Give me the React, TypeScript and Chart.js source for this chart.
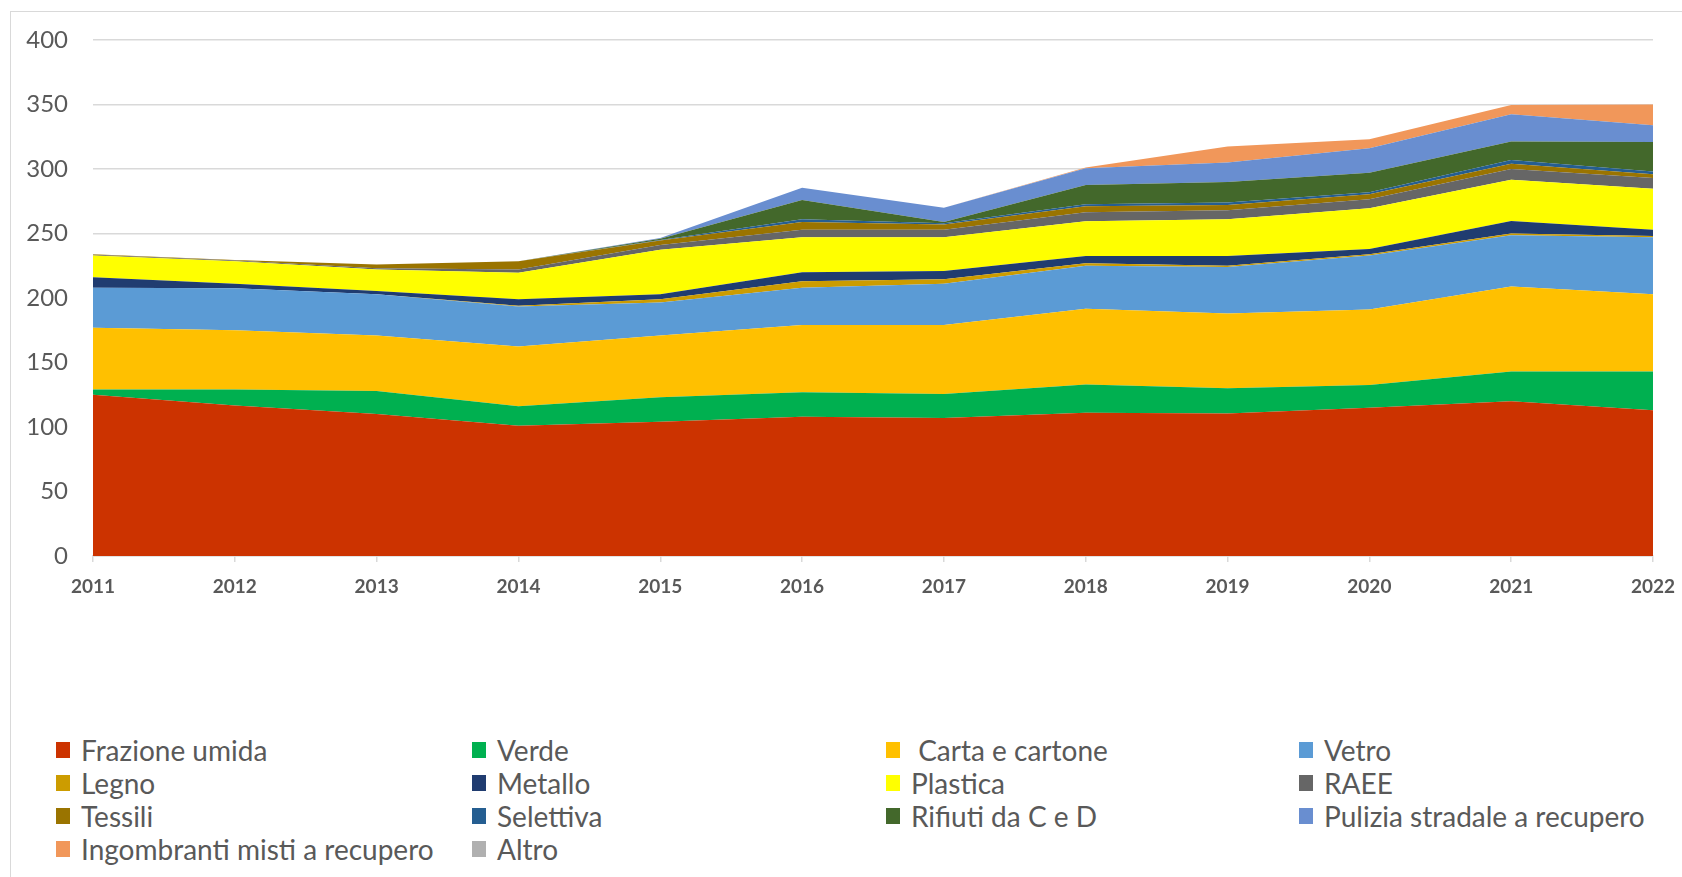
import React, { useEffect, useRef } from "react";
import { Chart, registerables } from "chart.js";

Chart.register(...registerables);

// ---------- DATA ----------
const years = ["2011", "2012", "2013", "2014", "2015", "2016", "2017", "2018", "2019", "2020", "2021", "2022"];

const frazioneUmida = [125, 116.7, 110, 101, 104, 108, 107, 111, 110.5, 115, 120, 113];
const verde = [4, 12.3, 18, 15, 19, 19, 18.5, 22, 19.5, 17.5, 23, 30];
const cartaCartone = [48, 46, 43, 46.5, 48, 52, 53.5, 58.7, 58, 58.5, 66, 60];
const vetro = [31, 32.5, 32, 31, 25.5, 29, 32, 33.3, 36, 42, 39.6, 44];
const legno = [0, 0, 0, 0.5, 2.5, 5, 3.5, 2, 1, 1, 1.4, 1];
const metallo = [8, 3.5, 2.5, 5, 4, 7, 6.5, 5.5, 7.5, 4, 9.7, 5];
const plastica = [17, 17.5, 16.5, 20.5, 34.5, 27, 26, 27, 28.5, 31.5, 32, 31.7];
const raee = [0.5, 0.5, 1, 2.5, 3.5, 6, 6, 7, 7, 7, 8.3, 8.3];
const tessili = [0.5, 0.5, 3, 6.5, 3.5, 6, 4, 4.7, 4, 4, 4, 3];
const selettiva = [0, 0, 0, 0, 0.5, 2, 1, 1.4, 2, 1.5, 3, 2];
const rifiutiCeD = [0, 0, 0, 0, 1, 15, 1, 15, 16, 15, 14.4, 23];
const puliziaStradale = [0, 0, 0, 0, 0.5, 9.5, 11, 13, 15, 19, 21, 13];
const ingombranti = [0, 0, 0, 0, 0, 0, 0, 0.5, 12.5, 7, 7.2, 16];
const altro = [0, 0, 0, 0, 0, 0, 0, 0, 0, 0, 0, 0];

const seriesLabels = [
  "Frazione umida",
  "Verde",
  " Carta e cartone",
  "Vetro",
  "Legno",
  "Metallo",
  "Plastica",
  "RAEE",
  "Tessili",
  "Selettiva",
  "Rifiuti da C e D",
  "Pulizia stradale a recupero",
  "Ingombranti misti a recupero",
  "Altro",
];

const seriesColors = [
  "#CC3300",
  "#00B050",
  "#FFC000",
  "#5B9BD5",
  "#CC9C00",
  "#203C70",
  "#FFFF00",
  "#666666",
  "#9A7400",
  "#255E91",
  "#43682B",
  "#698ED0",
  "#F1975A",
  "#B0B0B0",
];

const yTicks = [0, 50, 100, 150, 200, 250, 300, 350, 400];

// ---------- LAYOUT ----------
const W = 1682;
const H = 877;
const PLOT_BOTTOM = 556;
const CANVAS_H = 622;
const legendCols = [56, 472, 886, 1299];
const legendRows = [750, 783, 816, 849];

export default function App() {
  const ref = useRef<HTMLCanvasElement>(null);

  useEffect(() => {
    const series = [
      frazioneUmida, verde, cartaCartone, vetro, legno, metallo, plastica,
      raee, tessili, selettiva, rifiutiCeD, puliziaStradale, ingombranti, altro,
    ];
    const chart = new Chart(ref.current as HTMLCanvasElement, {
      type: "line",
      data: {
        labels: years,
        datasets: series.map((d, i) => ({
          label: seriesLabels[i],
          data: d,
          backgroundColor: seriesColors[i],
          borderColor: seriesColors[i],
          borderWidth: 0,
          pointRadius: 0,
          tension: 0,
          fill: i === 0 ? "origin" : "-1",
        })),
      },
      options: {
        animation: false,
        responsive: false,
        maintainAspectRatio: false,
        layout: { padding: { left: 0, right: 29, top: 40, bottom: 0 } },
        plugins: {
          legend: { display: false },
          tooltip: { enabled: false },
        },
        scales: {
          x: {
            offset: false,
            grid: { drawOnChartArea: false, drawTicks: true, tickLength: 6, color: "#d9d9d9", lineWidth: 1.5 },
            border: { color: "#d9d9d9", width: 1.5 },
            ticks: {
              color: "#595959",
              font: { family: "Lato", size: 19, weight: "bold" },
              padding: 13,
              maxRotation: 0,
              autoSkip: false,
            },
            afterFit: (s: any) => {
              s.height = CANVAS_H - PLOT_BOTTOM;
              s.paddingLeft = 0;
              s.paddingRight = 0;
            },
          },
          y: {
            stacked: true,
            min: 0,
            max: 400,
            afterBuildTicks: (s: any) => {
              s.ticks = yTicks.map((v) => ({ value: v }));
            },
            ticks: {
              color: "#595959",
              font: { family: "Lato", size: 24 },
              padding: 25,
            },
            grid: { color: "#d9d9d9", lineWidth: 1.5, drawTicks: false },
            border: { display: false },
            afterFit: (s: any) => {
              s.width = 93;
            },
          },
        },
      },
    });
    return () => chart.destroy();
  }, []);

  return (
    <div style={{ position: "absolute", left: 0, top: 0, width: W, height: H, background: "#fff", overflow: "hidden" }}>
      <div
        style={{
          position: "absolute",
          left: 10,
          top: 11,
          right: -2,
          bottom: -2,
          borderLeft: "1.5px solid #d9d9d9",
          borderTop: "1.5px solid #d9d9d9",
        }}
      />
      <canvas ref={ref} width={W} height={CANVAS_H} style={{ position: "absolute", left: 0, top: 0, width: W, height: CANVAS_H }} />
      {seriesLabels.map((label, i) => (
        <div
          key={i}
          style={{
            position: "absolute",
            left: legendCols[i % 4],
            top: legendRows[Math.floor(i / 4)] - 17,
            height: 34,
            display: "flex",
            alignItems: "center",
            fontFamily: "Lato, 'Open Sans', sans-serif",
            fontSize: 28,
            color: "#595959",
            whiteSpace: "pre",
          }}
        >
          <span style={{ display: "inline-block", width: 14, height: 16, background: seriesColors[i], marginRight: 11 }} />
          <span>{label}</span>
        </div>
      ))}
    </div>
  );
}
